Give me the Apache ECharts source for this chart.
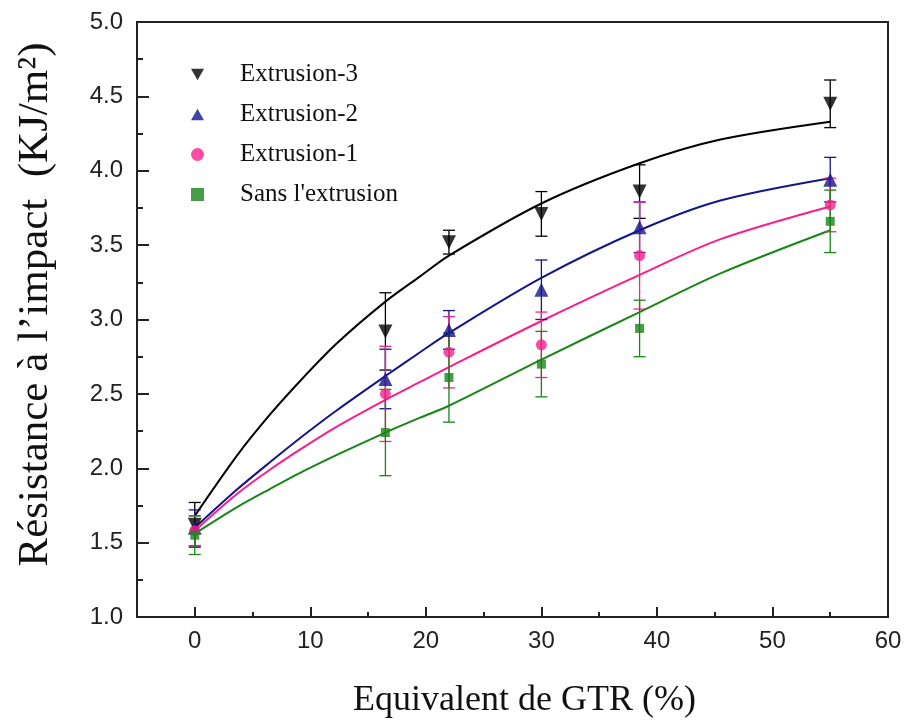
<!DOCTYPE html>
<html>
<head>
<meta charset="utf-8">
<script src="https://cdn.jsdelivr.net/npm/echarts@6/dist/echarts.min.js"></script>
<style>html,body{margin:0;padding:0;background:#fff}#c{width:907px;height:722px}</style>
</head>
<body>
<div id="c"></div>
<script>
// ---- data ----
const xVals = [0, 16.5, 22, 30, 38.5, 55];
const ext3 = [1.62, 2.92, 3.52, 3.71, 3.86, 4.45];
const ext3Err = [0.15, 0.26, 0.08, 0.15, 0.18, 0.16];
const ext2 = [1.60, 2.60, 2.93, 3.20, 3.62, 3.94];
const ext2Err = [0.12, 0.20, 0.13, 0.20, 0.17, 0.15];
const ext1 = [1.58, 2.50, 2.78, 2.83, 3.43, 3.77];
const ext1Err = [0.10, 0.32, 0.24, 0.22, 0.36, 0.18];
const sans = [1.55, 2.24, 2.61, 2.70, 2.94, 3.66];
const sansErr = [0.13, 0.29, 0.30, 0.22, 0.19, 0.21];

const fitX = [0, 3.7, 6.5, 9.4, 12.3, 16.5, 19.5, 22, 30, 38.5, 45.5, 55];
const fit3 = [1.68, 2.09, 2.36, 2.61, 2.84, 3.12, 3.29, 3.43, 3.78, 4.05, 4.21, 4.33];
const fit2 = [1.60, 1.86, 2.04, 2.22, 2.39, 2.62, 2.78, 2.91, 3.28, 3.60, 3.80, 3.95];
const fit1 = [1.58, 1.83, 1.99, 2.14, 2.28, 2.46, 2.58, 2.68, 2.99, 3.30, 3.54, 3.76];
const fit0 = [1.56, 1.74, 1.86, 1.98, 2.09, 2.24, 2.34, 2.42, 2.73, 3.05, 3.31, 3.60];

const names = ['Extrusion-3', 'Extrusion-2', 'Extrusion-1', "Sans l'extrusion"];
const xMajorTicks = [0, 10, 20, 30, 40, 50, 60];
const xMinorTicks = [5, 15, 25, 35, 45, 55];

const colors = ['#000000', '#14148c', '#fa1e8c', '#178617'];
const symbols = ['triangle', 'triangle', 'circle', 'rect'];
const legendIcons = ['path://M0,0 L10,0 L5,9 Z', 'path://M5,0 L10,9 L0,9 Z', 'circle', 'rect'];
const rotations = [180, 0, 0, 0];
const sizes = [14, 14, 11, 9];
const means = [ext3, ext2, ext1, sans];
const errs = [ext3Err, ext2Err, ext1Err, sansErr];
const fits = [fit3, fit2, fit1, fit0];

const series = [];
fits.forEach((f, i) => {
  series.push({
    type: 'line', name: names[i] + ' fit', smooth: 0.3, showSymbol: false,
    data: fitX.map((x, k) => [x, f[k]]),
    lineStyle: { color: colors[i], width: 2 }, z: 2, silent: true
  });
});
means.forEach((m, i) => {
  series.push({
    type: 'custom', name: names[i] + ' err', z: 3, silent: true,
    data: xVals.map((x, k) => [x, m[k] - errs[i][k], m[k] + errs[i][k]]),
    renderItem: function (params, api) {
      const lo = api.coord([api.value(0), api.value(1)]);
      const hi = api.coord([api.value(0), api.value(2)]);
      const w = 6;
      const st = { stroke: colors[i], lineWidth: 1.3 };
      return { type: 'group', children: [
        { type: 'line', shape: { x1: lo[0], y1: lo[1], x2: hi[0], y2: hi[1] }, style: st },
        { type: 'line', shape: { x1: lo[0] - w, y1: lo[1], x2: lo[0] + w, y2: lo[1] }, style: st },
        { type: 'line', shape: { x1: hi[0] - w, y1: hi[1], x2: hi[0] + w, y2: hi[1] }, style: st }
      ]};
    }
  });
});
means.forEach((m, i) => {
  series.push({
    type: 'scatter', name: names[i], symbol: symbols[i], symbolRotate: rotations[i],
    symbolSize: sizes[i], itemStyle: { color: colors[i] }, z: 4,
    data: xVals.map((x, k) => [x, m[k]])
  });
});

const chart = echarts.init(document.getElementById('c'));
chart.setOption({
  animation: false,
  backgroundColor: '#fff',
  grid: { left: 137, right: 19, top: 22, bottom: 105, show: true, borderColor: '#222', borderWidth: 2,
          containLabel: false, outerBoundsMode: 'none' },
  legend: {
    data: names.map((n, i) => ({ name: n, icon: legendIcons[i], itemStyle: { color: colors[i] } })),
    orient: 'vertical', left: 186, top: 57,
    itemWidth: 13, itemHeight: 13, itemGap: 15,
    textStyle: { fontFamily: 'Liberation Serif', fontSize: 25, color: '#111', padding: [0, 0, 0, 31] }
  },
  xAxis: [{
    type: 'value', min: -5, max: 60, position: 'bottom',
    splitLine: { show: false },
    axisLine: { onZero: false, lineStyle: { color: '#222', width: 2 } },
    axisTick: { inside: true, length: 10, customValues: xMajorTicks, lineStyle: { color: '#222', width: 2 } },
    axisLabel: { customValues: xMajorTicks, fontFamily: 'Liberation Sans', fontSize: 24, color: '#222', margin: 12 },
    name: 'Equivalent de GTR (%)', nameLocation: 'middle', nameGap: 66,
    nameTextStyle: { fontFamily: 'Liberation Serif', fontSize: 36, color: '#111', padding: [0, 0, 0, 24] }
  }, {
    type: 'value', min: -5, max: 60, position: 'bottom', offset: 0,
    splitLine: { show: false }, axisLine: { show: false, onZero: false },
    axisTick: { inside: true, length: 5, customValues: xMinorTicks, lineStyle: { color: '#222', width: 2 } },
    axisLabel: { show: false }
  }],
  yAxis: {
    type: 'value', min: 1, max: 5, interval: 0.5,
    splitLine: { show: false },
    axisLine: { show: true, onZero: false, lineStyle: { color: '#222', width: 2 } },
    axisTick: { inside: true, length: 12, lineStyle: { color: '#222', width: 2 } },
    minorTick: { show: true, splitNumber: 2, length: 6, lineStyle: { color: '#222', width: 2 } },
    axisLabel: { formatter: v => v.toFixed(1), fontFamily: 'Liberation Sans', fontSize: 24, color: '#222', margin: 14 },
    name: 'Résistance à l’impact  (KJ/m²)', nameLocation: 'middle', nameGap: 80, nameRotate: 90,
    nameTextStyle: { fontFamily: 'Liberation Serif', fontSize: 43, color: '#111', padding: [0, 0, 0, 30] }
  },
  series: series
});
</script>
</body>
</html>
